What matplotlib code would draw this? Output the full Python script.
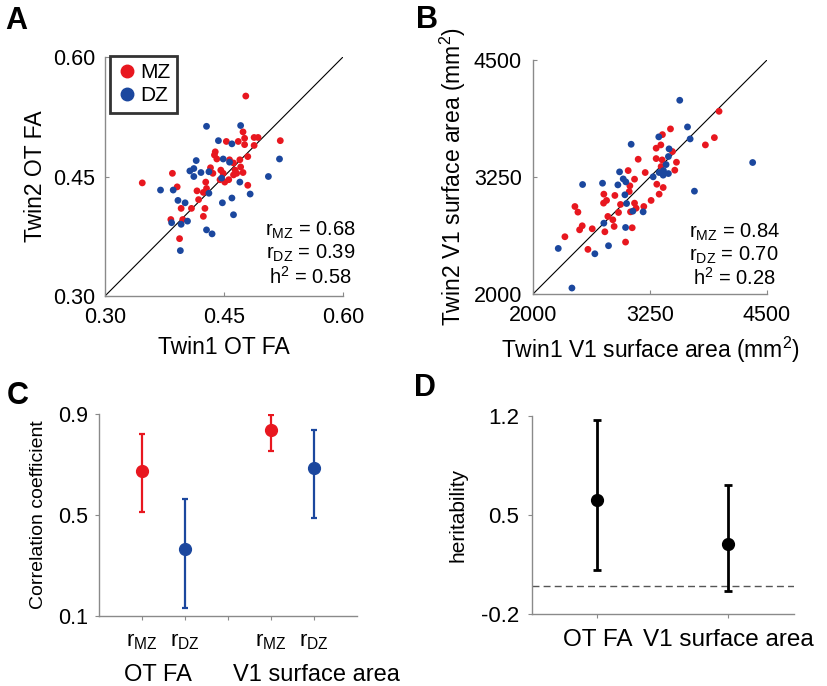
import matplotlib
matplotlib.use("Agg")
import matplotlib.pyplot as plt
from matplotlib.lines import Line2D

plt.rcParams['font.family'] = ['Liberation Sans', 'DejaVu Sans']
plt.rcParams['mathtext.default'] = 'regular'

# ---- Panel A: OT FA twin pairs
ot_mz_x = [0.4775, 0.347, 0.385, 0.391, 0.383, 0.396, 0.398, 0.394, 0.409, 0.416,
           0.418, 0.424, 0.426, 0.424, 0.427, 0.428, 0.433, 0.436, 0.438, 0.439,
           0.441, 0.453, 0.446, 0.449, 0.451, 0.457, 0.462, 0.464, 0.456, 0.462,
           0.468, 0.474, 0.476, 0.476, 0.471, 0.474, 0.480, 0.480, 0.488, 0.488,
           0.493, 0.521, 0.466, 0.470, 0.445]
ot_mz_y = [0.551, 0.442, 0.454, 0.437, 0.396, 0.410, 0.396, 0.372, 0.410, 0.432,
           0.421, 0.430, 0.410, 0.400, 0.443, 0.435, 0.461, 0.454, 0.477, 0.481,
           0.472, 0.494, 0.458, 0.454, 0.443, 0.471, 0.467, 0.458, 0.446, 0.452,
           0.494, 0.506, 0.498, 0.490, 0.462, 0.455, 0.475, 0.439, 0.499, 0.489,
           0.499, 0.495, 0.454, 0.471, 0.446]
ot_dz_x = [0.428, 0.471, 0.443, 0.460, 0.449, 0.415, 0.412, 0.407, 0.421, 0.431,
           0.412, 0.457, 0.447, 0.470, 0.506, 0.520, 0.370, 0.386, 0.392, 0.401,
           0.431, 0.483, 0.460, 0.448, 0.462, 0.404, 0.396, 0.384, 0.428, 0.435,
           0.395]
ot_dz_y = [0.513, 0.514, 0.495, 0.491, 0.472, 0.470, 0.460, 0.457, 0.455, 0.456,
           0.450, 0.468, 0.448, 0.443, 0.450, 0.472, 0.433, 0.433, 0.420, 0.417,
           0.429, 0.428, 0.423, 0.417, 0.402, 0.394, 0.390, 0.392, 0.383, 0.378,
           0.357]

# ---- Panel B: V1 surface area twin pairs (mm^2)
v1_mz_x = [3988, 3938, 3842, 3469, 3383, 3366, 3316, 3316, 3490, 3380, 3369, 3533,
           3515, 3124, 3199, 3017, 3085, 3035, 3028, 2875, 2757, 2786, 2754, 2914,
           2935, 3085, 3102, 3184, 3262, 3323, 3348, 3391, 3042, 3060, 2853, 2800,
           2867, 2768, 2633, 2526, 2498, 2448, 2480, 2341, 2587, 2989]
v1_mz_y = [3952, 3671, 3593, 3764, 3703, 3593, 3558, 3447, 3522, 3433, 3362, 3408,
           3323, 3440, 3298, 3319, 3227, 3156, 3095, 3053, 3067, 3000, 2971, 2871,
           2957, 2971, 2917, 2935, 3000, 3173, 3067, 3138, 2878, 2708, 2793, 2829,
           2722, 2665, 2697, 2729, 2686, 2935, 2875, 2612, 2477, 2555]
v1_dz_x = [3568, 3651, 3679, 3344, 3049, 3454, 3447, 3422, 4347, 3348, 3394, 3447,
           3391, 3284, 2925, 2964, 2992, 2907, 2743, 2530, 3725, 2982, 3000, 3067,
           3177, 2757, 2989, 2807, 2661, 2270, 2416]
v1_dz_y = [4070, 3785, 3657, 3679, 3600, 3551, 3469, 3383, 3405, 3298, 3319, 3287,
           3270, 3252, 3305, 3230, 3198, 3166, 3184, 3170, 3099, 3060, 2967, 2885,
           2878, 2757, 2711, 2516, 2430, 2487, 2064]

# ---- Panel C: twin correlations with CIs
corr_pos = [1, 2, 4, 5]
corr_val = [0.673, 0.366, 0.835, 0.685]
corr_lo = [0.512, 0.130, 0.755, 0.489]
corr_hi = [0.821, 0.564, 0.895, 0.835]
corr_grp = ['MZ', 'DZ', 'MZ', 'DZ']

# ---- Panel D: heritability with CIs
her_labels = ['OT FA', 'V1 surface area']
her_val = [0.609, 0.294]
her_lo = [0.108, -0.040]
her_hi = [1.172, 0.713]

red = '#E8171F'
blue = '#1B479E'
spine_col = '#8a8a8a'

fig = plt.figure(figsize=(8.28, 6.86), dpi=100)


def style_axes(ax, direction, size):
    for s in ['top', 'right']:
        ax.spines[s].set_visible(False)
    for s in ['left', 'bottom']:
        ax.spines[s].set_color(spine_col)
        ax.spines[s].set_linewidth(1.0)
    ax.tick_params(direction=direction, length=3, color=spine_col, labelsize=size)


# Panel A
axA = fig.add_axes([0.1268, 0.5685, 0.2874, 0.3484])
axA.plot([0.30, 0.60], [0.30, 0.60], color='black', lw=0.8, zorder=1)
axA.scatter(ot_mz_x, ot_mz_y, s=24, color=red, edgecolors='none', zorder=2)
axA.scatter(ot_dz_x, ot_dz_y, s=24, color=blue, edgecolors='none', zorder=3)
axA.set_xlim(0.30, 0.60)
axA.set_ylim(0.30, 0.60)
axA.set_xticks([0.30, 0.45, 0.60])
axA.set_yticks([0.30, 0.45, 0.60])
axA.set_xticklabels(['0.30', '0.45', '0.60'])
axA.set_yticklabels(['0.30', '0.45', '0.60'])
style_axes(axA, 'in', 15.5)
axA.tick_params(axis='x', pad=8)
axA.tick_params(axis='y', pad=7)
axA.set_xlabel('Twin1 OT FA', fontsize=16.5, labelpad=6)
axA.set_ylabel('Twin2 OT FA', fontsize=16.5, labelpad=4)
handles = [Line2D([], [], ls='none', marker='o', ms=9, color=red, label='MZ'),
           Line2D([], [], ls='none', marker='o', ms=9, color=blue, label='DZ')]
leg = axA.legend(handles=handles, loc='upper left', bbox_to_anchor=(0.02, 1.005),
                 fontsize=15, frameon=True, fancybox=False, handletextpad=0.1,
                 handlelength=1.0, borderpad=0.35, labelspacing=0.2, borderaxespad=0)
leg.get_frame().set_edgecolor('black')
leg.get_frame().set_linewidth(2)
for i, t in enumerate(['$r_{MZ}$ = 0.68', '$r_{DZ}$ = 0.39', '$h^2$ = 0.58']):
    axA.text(0.865, 0.276 - i * 0.098, t, transform=axA.transAxes, ha='center',
             va='center', fontsize=14.5)

# Panel B
axB = fig.add_axes([0.6437, 0.5714, 0.2826, 0.3411])
axB.plot([2000, 4500], [2000, 4500], color='black', lw=0.8, zorder=1)
axB.scatter(v1_mz_x, v1_mz_y, s=24, color=red, edgecolors='none', zorder=2)
axB.scatter(v1_dz_x, v1_dz_y, s=24, color=blue, edgecolors='none', zorder=3)
axB.set_xlim(2000, 4500)
axB.set_ylim(2000, 4500)
axB.set_xticks([2000, 3250, 4500])
axB.set_yticks([2000, 3250, 4500])
style_axes(axB, 'in', 15.5)
axB.tick_params(axis='x', pad=8)
axB.tick_params(axis='y', pad=8)
axB.set_xlabel('Twin1 V1 surface area (mm$^2$)', fontsize=16.5, labelpad=6)
axB.set_ylabel('Twin2 V1 surface area (mm$^2$)', fontsize=16.5, labelpad=4)
for i, t in enumerate(['$r_{MZ}$ = 0.84', '$r_{DZ}$ = 0.70', '$h^2$ = 0.28']):
    axB.text(0.86, 0.265 - i * 0.099, t, transform=axB.transAxes, ha='center',
             va='center', fontsize=14.5)

# Panel C
axC = fig.add_axes([0.1196, 0.1020, 0.3116, 0.2945])
for p, v, lo, hi, g in zip(corr_pos, corr_val, corr_lo, corr_hi, corr_grp):
    c = red if g == 'MZ' else blue
    axC.errorbar([p], [v], yerr=[[v - lo], [hi - v]], fmt='o', color=c, ms=8.5,
                 elinewidth=1.6, capsize=2.2, capthick=1.6)
axC.set_xlim(0, 6)
axC.set_ylim(0.1, 0.9)
axC.set_yticks([0.1, 0.5, 0.9])
axC.set_yticklabels(['0.1', '0.5', '0.9'])
axC.set_xticks([1, 2, 3, 4, 5])
axC.set_xticklabels(['$r_{MZ}$', '$r_{DZ}$', '', '$r_{MZ}$', '$r_{DZ}$'])
style_axes(axC, 'out', 15.5)
axC.tick_params(axis='x', pad=8, labelsize=16)
axC.tick_params(axis='y', pad=5)
axC.set_ylabel('Correlation coefficient', fontsize=14, labelpad=8)
axC.text(1.38, -0.29, 'OT FA', transform=axC.get_xaxis_transform(), ha='center',
         va='center', fontsize=17)
axC.text(5.05, -0.29, 'V1 surface area', transform=axC.get_xaxis_transform(),
         ha='center', va='center', fontsize=17)

# Panel D
axD = fig.add_axes([0.6425, 0.1050, 0.3164, 0.2886])
axD.axhline(0, color='#555555', lw=1.0, ls=(0, (5, 3)), zorder=1)
for i, (v, lo, hi) in enumerate(zip(her_val, her_lo, her_hi)):
    axD.errorbar([i + 1], [v], yerr=[[v - lo], [hi - v]], fmt='o', color='black',
                 ms=8.5, elinewidth=2.0, capsize=2.8, capthick=2.0, zorder=2)
axD.set_xlim(0.5, 2.5)
axD.set_ylim(-0.2, 1.2)
axD.set_yticks([-0.2, 0.5, 1.2])
axD.set_yticklabels(['-0.2', '0.5', '1.2'])
axD.set_xticks([1, 2])
axD.set_xticklabels(her_labels)
style_axes(axD, 'out', 16)
axD.tick_params(axis='x', labelsize=17.5, pad=8)
axD.tick_params(axis='y', pad=6)
axD.set_ylabel('heritability', fontsize=15, labelpad=10)

# Panel letters
for x, y, s in [(0.006, 0.969, 'A'), (0.502, 0.971, 'B'), (0.008, 0.423, 'C'), (0.5, 0.434, 'D')]:
    fig.text(x, y, s, fontsize=22, fontweight='bold', ha='left', va='center')

fig.savefig('out.png', dpi=100)
